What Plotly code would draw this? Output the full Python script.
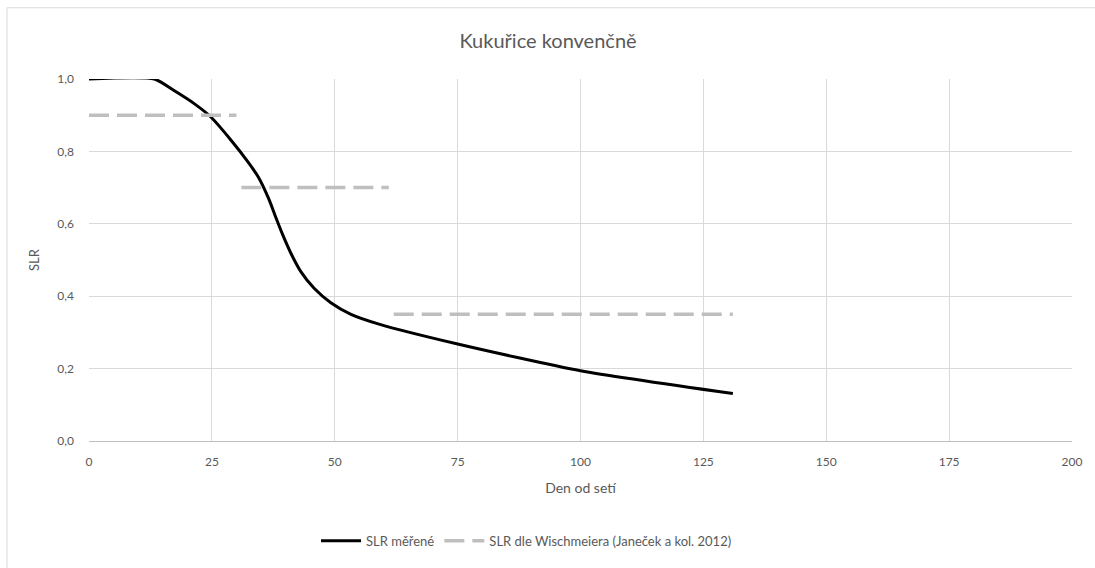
import plotly.graph_objects as go

# Measured SLR over the season (day after sowing -> SLR)
den_mereni = [0, 13.3, 17.3, 21.4, 24.8, 28.9, 32.3, 34.5, 36.6, 38.0, 39.4, 41.1, 43.1,
              45.8, 49.2, 53.3, 59.0, 75, 100, 131]
slr_mereni = [1.0, 1.0, 0.968, 0.932, 0.895, 0.831, 0.772, 0.728, 0.668, 0.618, 0.570,
              0.518, 0.468, 0.422, 0.382, 0.350, 0.323, 0.268, 0.194, 0.131]

# Wischmeier SLR by crop period (start day, end day, value)
obdobi_od = [0, 31, 62]
obdobi_do = [30, 61, 131]
slr_wisch = [0.9, 0.7, 0.35]

x_ticks = [0, 25, 50, 75, 100, 125, 150, 175, 200]
y_ticks = [0.0, 0.2, 0.4, 0.6, 0.8, 1.0]
y_tick_text = [f"{v:.1f}".replace(".", ",") for v in y_ticks]

# Build the stepped Wischmeier series as separate segments
wx, wy = [], []
for a, b, v in zip(obdobi_od, obdobi_do, slr_wisch):
    wx += [a, b, None]
    wy += [v, v, None]

FONT = "Lato, 'Open Sans', sans-serif"
TXT = "#595959"
GRID = "#d9d9d9"

W, H = 1095, 568
L, R, T, B = 89, 23, 79, 123
PW, PH = W - L - R, H - T - B

fig = go.Figure()
fig.add_trace(go.Scatter(
    x=den_mereni, y=slr_mereni, mode="lines", name="SLR měřené",
    line=dict(color="black", width=3, shape="spline", smoothing=0.6),
))
fig.add_trace(go.Scatter(
    x=wx, y=wy, mode="lines", name="SLR dle Wischmeiera (Janeček a kol. 2012)",
    line=dict(color="#bfbfbf", width=3.5, dash="20px,8px"),
    connectgaps=False,
))

fig.update_layout(
    width=W, height=H,
    margin=dict(l=L, r=R, t=T, b=B),
    paper_bgcolor="white", plot_bgcolor="white",
    font=dict(family=FONT, color=TXT, size=12),
    title=dict(text="Kukuřice konvenčně", x=548 / W, xanchor="center",
               y=1 - 41 / H, yanchor="middle",
               font=dict(size=20, color=TXT, family=FONT)),
    showlegend=True,
    legend=dict(orientation="h", x=(316 - L) / PW, xanchor="left",
                y=-(546 - (T + PH)) / PH, yanchor="middle",
                font=dict(size=13, color=TXT, family=FONT),
                itemwidth=40, tracegroupgap=0, bgcolor="rgba(0,0,0,0)"),
    shapes=[dict(type="rect", xref="paper", yref="paper",
                 x0=-(L - 7) / PW, x1=1.2, y0=-0.6, y1=1 + (T - 7) / PH,
                 line=dict(color=GRID, width=1), layer="below")],
)

fig.update_xaxes(
    range=[0, 200], tickvals=x_ticks, showgrid=True, gridcolor=GRID, gridwidth=1,
    zeroline=False, showline=True, linecolor="#bfbfbf", linewidth=1,
    ticks="", tickfont=dict(size=12, color=TXT), ticklabelstandoff=10,
    title=dict(text="Den od setí", font=dict(size=14, color=TXT), standoff=14),
)
fig.update_yaxes(
    range=[0, 1.0], tickvals=y_ticks, ticktext=y_tick_text, showgrid=True,
    gridcolor=GRID, gridwidth=1, zeroline=False, showline=False,
    ticks="", tickfont=dict(size=12, color=TXT), ticklabelstandoff=14,
    title=dict(text="SLR", font=dict(size=13, color=TXT), standoff=14),
)

fig.write_html("out.html")
